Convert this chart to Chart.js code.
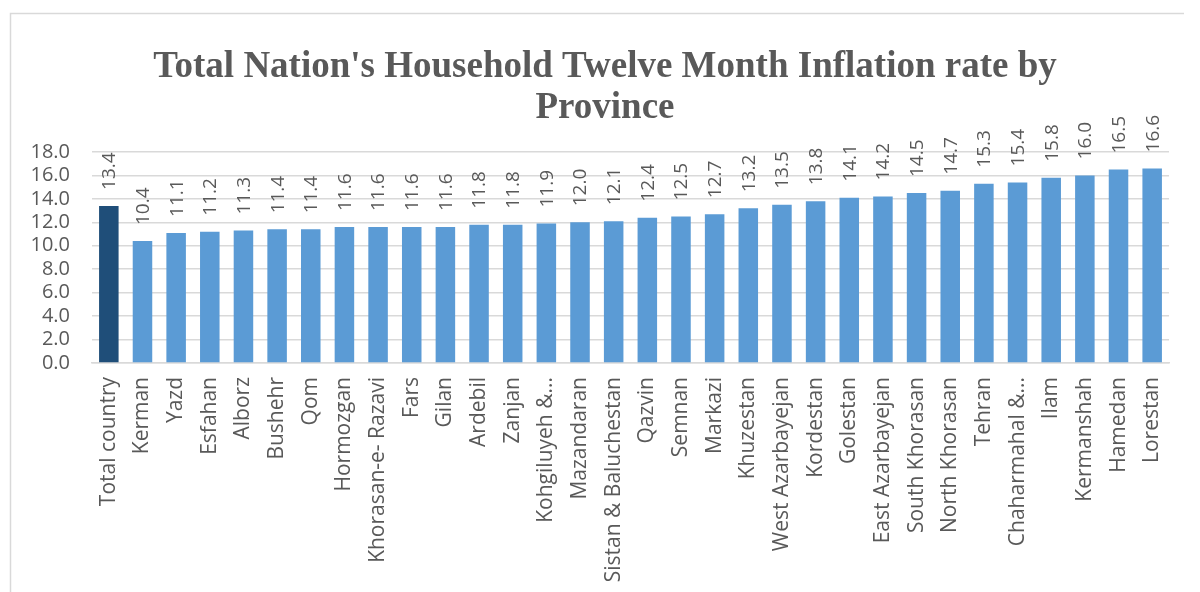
<html>

<head>
  <meta charset="utf-8">
  <title>Household Inflation by Province</title>
  <style>
    html,
    body {
      padding: 0;
      margin: 0;
      background: #fff;
    }

    #chartBox {
      width: 1200px;
      height: 592px;
    }
  </style>
  <script src="https://cdn.jsdelivr.net/npm/chart.js@4.4.1/dist/chart.umd.min.js"></script>
</head>

<body>
  <div id="chartBox"><canvas id="chart"></canvas></div>

  <script>
    // data
    var provinces = ["Total country", "Kerman", "Yazd", "Esfahan", "Alborz", "Bushehr", "Qom", "Hormozgan",
      "Khorasan-e- Razavi", "Fars", "Gilan", "Ardebil", "Zanjan", "Kohgiluyeh &...", "Mazandaran",
      "Sistan & Baluchestan", "Qazvin", "Semnan", "Markazi", "Khuzestan", "West Azarbayejan", "Kordestan",
      "Golestan", "East Azarbayejan", "South Khorasan", "North Khorasan", "Tehran", "Chaharmahal &...",
      "Ilam", "Kermanshah", "Hamedan", "Lorestan"];
    var inflation = [13.4, 10.4, 11.1, 11.2, 11.3, 11.4, 11.4, 11.6, 11.6, 11.6, 11.6, 11.8, 11.8, 11.9, 12.0,
      12.1, 12.4, 12.5, 12.7, 13.2, 13.5, 13.8, 14.1, 14.2, 14.5, 14.7, 15.3, 15.4, 15.8, 16.0, 16.5, 16.6];
    var yTicks = [0, 2, 4, 6, 8, 10, 12, 14, 16, 18];
    var titleLines = ["Total Nation's Household Twelve Month Inflation rate by", "Province"];

    var textFont = "'Open Sans'";
    var gray = "#595959";

    // frame, title and value labels drawn by hand
    var decor = {
      id: "decor",
      beforeDraw: function (chart) {
        var c = chart.ctx;
        c.save();
        c.fillStyle = "#fff";
        c.fillRect(0, 0, chart.width, chart.height);
        c.strokeStyle = "#d9d9d9";
        c.lineWidth = 1.5;
        c.beginPath();
        c.moveTo(10.5, chart.height);
        c.lineTo(10.5, 13.5);
        c.lineTo(chart.width, 13.5);
        c.stroke();
        c.restore();
      },
      afterDatasetsDraw: function (chart) {
        var c = chart.ctx;
        c.save();
        c.fillStyle = gray;
        c.textAlign = "center";
        c.textBaseline = "alphabetic";
        c.font = "bold 37px 'Liberation Serif'";
        c.fillText(titleLines[0], 605, 77);
        c.fillText(titleLines[1], 605, 118);

        c.font = "19px " + textFont;
        c.textAlign = "left";
        c.textBaseline = "middle";
        var meta = chart.getDatasetMeta(0);
        meta.data.forEach(function (bar, i) {
          c.save();
          c.translate(bar.x + 1, bar.y - 16);
          c.rotate(-Math.PI / 2);
          c.fillText(inflation[i].toFixed(1), 0, 0);
          c.restore();
        });
        c.restore();
      }
    };

    function drawChart() {
      var ctx = document.getElementById("chart").getContext("2d");
      var chart = new Chart(ctx, {
        type: "bar",
        data: {
          labels: provinces,
          datasets: [{
            data: inflation,
            backgroundColor: inflation.map(function (v, i) { return i === 0 ? "#1f4e79" : "#5b9bd5"; }),
            barPercentage: 0.58,
            categoryPercentage: 1
          }]
        },
        options: {
          responsive: false,
          animation: false,
          devicePixelRatio: 1,
          layout: { padding: { top: 152, right: 15, left: 0, bottom: 0 } },
          plugins: {
            legend: { display: false },
            tooltip: { enabled: false }
          },
          scales: {
            x: {
              grid: { display: false },
              border: { color: "#d9d9d9", width: 1.5 },
              ticks: {
                color: gray,
                font: { family: textFont, size: 21 },
                maxRotation: 90,
                minRotation: 90,
                padding: 6,
                autoSkip: false
              },
              afterFit: function (s) { s.height = 229; }
            },
            y: {
              min: 0,
              max: 18,
              afterBuildTicks: function (s) { s.ticks = yTicks.map(function (v) { return { value: v }; }); },
              grid: { color: "#d9d9d9", lineWidth: 1.5, drawTicks: false },
              border: { display: false },
              ticks: {
                color: gray,
                font: { family: textFont, size: 20 },
                padding: 22,
                autoSkip: false,
                callback: function (v) { return v.toFixed(1); }
              },
              afterFit: function (s) { s.width = 92; }
            }
          }
        },
        plugins: [decor]
      });
      chart.resize(1200, 592);
    }

    Promise.all([
      document.fonts.load("19px 'Open Sans'"),
      document.fonts.load("bold 37px 'Liberation Serif'")
    ]).then(drawChart, drawChart);
  </script>
</body>

</html>
